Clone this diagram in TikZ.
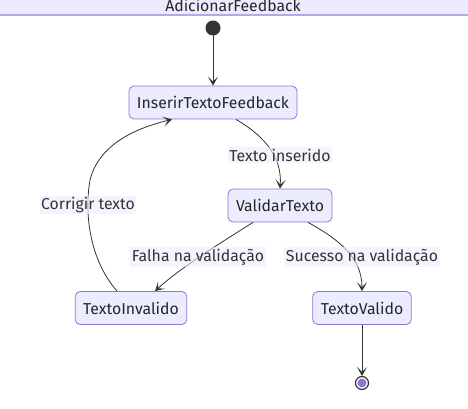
\documentclass[tikz,border=0pt]{standalone}
\usepackage{fontspec}
\setmainfont{Fira Sans}
\usetikzlibrary{arrows.meta}
\definecolor{nodefill}{HTML}{ECECFF}
\definecolor{nodeline}{HTML}{9370DB}
\definecolor{hdrline}{HTML}{B9A5E8}
\definecolor{ink}{HTML}{333333}
\begin{document}
\begin{tikzpicture}[x=1pt,y=-1pt,
  state/.style={draw=nodeline, fill=nodefill, rounded corners=5pt, line width=0.8pt,
    minimum height=33pt, inner xsep=8pt, font=\fontsize{15.8}{18}\selectfont, text=black!85},
  lbl/.style={fill=nodefill, fill opacity=0.6, text opacity=1, inner sep=1.5pt,
    font=\fontsize{15.8}{18}\selectfont, text=ink},
  edge/.style={draw=ink, line width=0.8pt, -{Stealth[length=9pt,width=10pt,inset=5pt]}}]
\useasboundingbox (0,0) rectangle (468,409);
% header
\fill[nodefill] (0,-10) rectangle (468,15);
\draw[hdrline, line width=1.5pt] (0,15) -- (468,15);
\node[anchor=base, font=\fontsize{15.8}{18}\selectfont, text=black!85] (hdr) at (233,12) {AdicionarFeedback};
% states
\fill[ink] (213,28) circle (7.5) coordinate (start);
\node[state] (ins) at (213,102.5) {InserirTextoFeedback};
\node[state] (val) at (280,205.5) {ValidarTexto};
\node[state] (inv) at (131,308) {TextoInvalido};
\node[state] (ok) at (362,308) {TextoValido};
\coordinate (endc) at (362,383);
\draw[ink, line width=1.2pt, fill=white] (endc) circle (6.5);
\fill[nodeline] (endc) circle (4.5);
% edges
\draw[edge] ([yshift=-7.5pt]start) -- (ins.north);
\draw[edge] ([xshift=23pt]ins.south) .. controls (268,138) and (282,160) .. (val.north);
\draw[edge] ([xshift=-27pt]val.south) .. controls (225,240) and (180,268) .. ([xshift=24pt]inv.north);
\draw[edge] ([xshift=28pt]val.south) .. controls (340,240) and (362,258) .. (ok.north);
\draw[edge] ([xshift=-14pt]inv.north) .. controls (90,260) and (84,215) .. (90,180)
   .. controls (100,140) and (145,126) .. ([xshift=-41pt]ins.south);
\draw[edge] (ok.south) -- ([yshift=7pt]endc);
% labels
\node[lbl] (l1) at (280,155) {Texto inserido};
\node[lbl] (l2) at (88,205) {Corrigir texto};
\node[lbl] (l3) at (198,257) {Falha na validação};
\node[lbl] (l4) at (362,257) {Sucesso na validação};
\end{tikzpicture}
\end{document}
